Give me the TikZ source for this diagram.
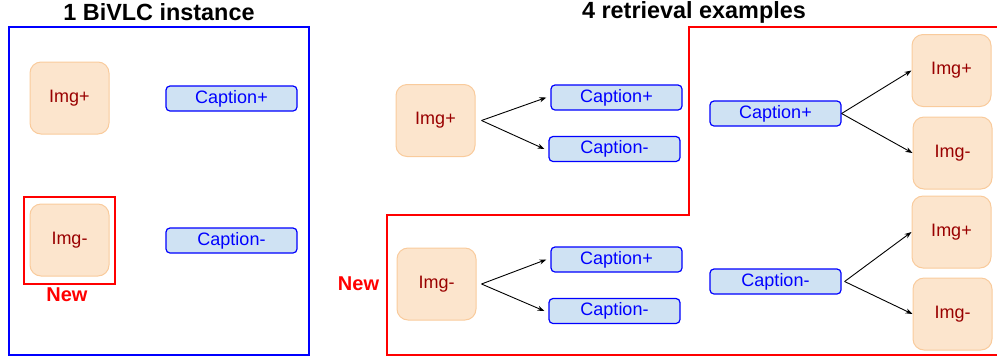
\documentclass[tikz,border=0pt]{standalone}
\usepackage{fontspec}
\setmainfont{Liberation Sans}
\usetikzlibrary{arrows.meta,fit}
\definecolor{imgfill}{HTML}{FCE5CD}
\definecolor{imgline}{HTML}{F9CB9C}
\definecolor{imgtext}{HTML}{990000}
\definecolor{capfill}{HTML}{CFE2F3}
\begin{document}
\begin{tikzpicture}[x=1pt,y=-1pt,
imgbox/.style={rectangle,rounded corners=11pt,fill=imgfill,draw=imgline,line width=1pt,
  minimum width=79pt,minimum height=72pt,inner sep=0pt,text=imgtext,font=\fontsize{18}{18}\selectfont},
capbox/.style={rectangle,rounded corners=4pt,fill=capfill,draw=blue,line width=1.2pt,
  minimum width=131pt,minimum height=25pt,inner sep=0pt,text=blue,font=\fontsize{18}{18}\selectfont}]
\tikzstyle{titletext}=[font=\fontsize{23.4}{23.4}\selectfont\bfseries]
\tikzstyle{newtext}=[text=red,font=\fontsize{20}{20}\selectfont\bfseries]
\tikzstyle{arr}=[-{Stealth[length=7pt,width=5pt]},line width=0.9pt]
\useasboundingbox (0,0) rectangle (997,360);
% left: one instance
\node[titletext] (TitleL) at (159,12) {1 BiVLC instance};
\draw[blue,line width=2pt] (9,27) rectangle (309,355);
\node[imgbox] (ImgP) at (69.5,98) {Img+};
\node[capbox] (CapP) at (231.5,98.5) {Caption+};
\node[imgbox] (ImgN) at (69.5,240) {Img-};
\node[capbox] (CapN) at (231.5,240.5) {Caption-};
\node[draw=red,line width=2pt,fit=(ImgN),inner xsep=5.5pt,inner ysep=7pt] (NewBox) {};
\node[newtext] (NewL) at (67,295) {New};
% right: retrieval examples
\node[titletext] (TitleR) at (694,12) {4 retrieval examples};
\draw[red,line width=2pt] (1000,27) -- (689,27) -- (689,215) -- (387,215) -- (387,355) -- (1000,355);
\node[newtext] (NewR) at (358.5,284) {New};
% image to text
\node[imgbox] (ImgP2) at (435.5,120.5) {Img+};
\node[capbox] (CapP1) at (616.5,97.5) {Caption+};
\node[capbox] (CapN1) at (614.5,149) {Caption-};
\node[imgbox] (ImgN2) at (436.5,284) {Img-};
\node[capbox] (CapP2) at (616.5,259.5) {Caption+};
\node[capbox] (CapN2) at (614.5,311) {Caption-};
\draw[arr] ([xshift=6pt]ImgP2.east) -- ([xshift=-4pt]CapP1.west);
\draw[arr] ([xshift=6pt]ImgP2.east) -- ([xshift=-4pt]CapN1.west);
\draw[arr] ([xshift=5pt]ImgN2.east) -- ([xshift=-4pt]CapP2.west);
\draw[arr] ([xshift=5pt]ImgN2.east) -- ([xshift=-4pt]CapN2.west);
% text to image
\node[capbox] (CapP3) at (775.5,113.5) {Caption+};
\node[imgbox] (ImgP3) at (951.5,70.5) {Img+};
\node[imgbox] (ImgN3) at (952.5,153) {Img-};
\node[capbox] (CapN3) at (775.5,281.5) {Caption-};
\node[imgbox] (ImgP4) at (951.5,232) {Img+};
\node[imgbox] (ImgN4) at (952.5,314) {Img-};
\draw[arr] (CapP3.east) -- (ImgP3.west);
\draw[arr] (CapP3.east) -- (ImgN3.west);
\draw[arr] ([xshift=3pt]CapN3.east) -- (ImgP4.west);
\draw[arr] ([xshift=3pt]CapN3.east) -- (ImgN4.west);
\end{tikzpicture}
\end{document}
